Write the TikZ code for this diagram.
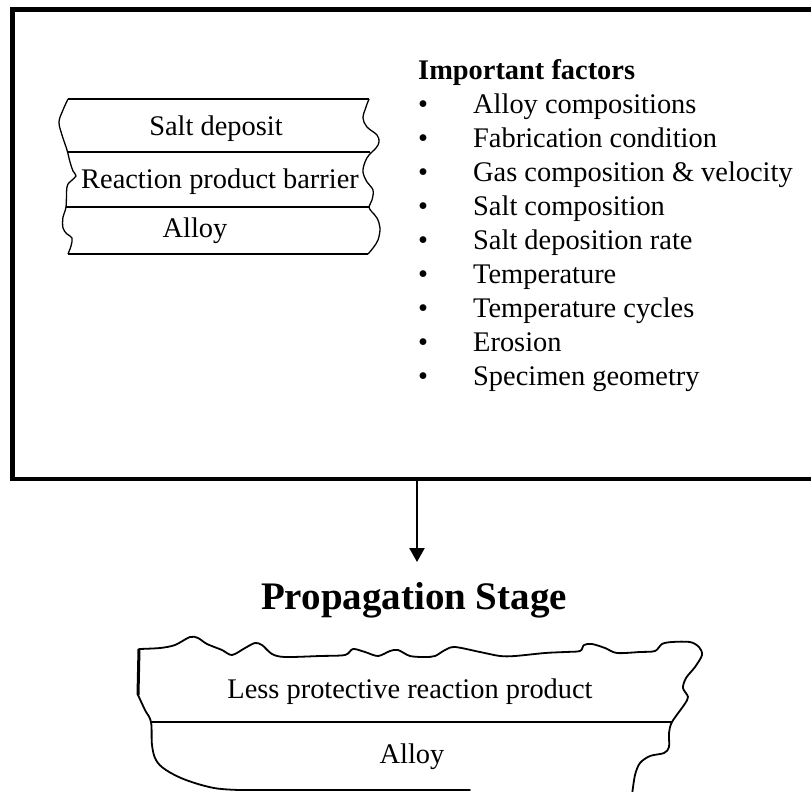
\documentclass[tikz,border=0pt]{standalone}
\usepackage{fontspec}
\setmainfont{Liberation Serif}
\usetikzlibrary{arrows.meta,positioning}

\begin{document}
\begin{tikzpicture}[x=1pt, y=-1pt, >={Triangle[length=14pt, width=15pt]},
  every node/.style={inner sep=0pt},
  txt/.style={font=\fontsize{28.4}{34}\selectfont, anchor=base},
  ttl/.style={font=\fontsize{39}{46}\selectfont\bfseries, anchor=base},
  layer/.style={line width=1.3pt},
  rough/.style={line width=1.8pt, line join=round, line cap=round}]
  \useasboundingbox (0,0) rectangle (811,792);

  % initiation frame
  \node[draw, line width=4.5pt, minimum width=810pt, minimum height=469pt, anchor=north west] (frame) at (10,7.5) {};

  % layered scale, initiation
  \draw[layer] (68,99) -- (369,99);
  \draw[layer] (68,152) -- (370,152);
  \draw[layer] (66,207) -- (369,207);
  \draw[layer] (68,254) -- (368,254);
  \draw[layer] plot[smooth, tension=0.6] coordinates {(68,99) (63,110) (59,122) (62,135) (67,150) (70,162) (73,171) (76,176) (71,181) (67,187) (66,207) (63,217) (63,228) (67,234) (72,238) (71,246) (68,254)};
  \draw[layer] plot[smooth, tension=0.6] coordinates {(369,99) (366,107) (363,118) (367,127) (377,135) (379,142) (376,148) (369,155) (365,162) (363,172) (367,182) (373,190) (372,200) (369,207) (372,212) (377,218) (380,228) (378,240) (373,248) (368,254)};
  \node[txt] (salt) at (216,135) {Salt deposit};
  \node[txt] (barrier) at (220,188) {Reaction product barrier};
  \node[txt] (alloyA) at (195,237) {Alloy};

  % factor list
  \node[txt, font=\fontsize{28.4}{34}\selectfont\bfseries, anchor=base west] (factors) at (418,79) {Important factors};
  \foreach \factor [count=\i] in {Alloy compositions, Fabrication condition, Gas composition \& velocity, Salt composition, Salt deposition rate, Temperature, Temperature cycles, Erosion, Specimen geometry} {
    \node[txt] (dot\i) at (423,79+34*\i) {\textbullet};
    \node[txt, anchor=base west] (fac\i) at (473,79+34*\i) {\factor};
  }

  % arrow to propagation
  \coordinate (tip) at (417,562);
  \draw[->, line width=2.5pt] (frame.south -| tip) -- (tip);
  \node[ttl] (stage) at (414,609) {Propagation Stage};

  % layered scale, propagation
  \draw[rough] plot[smooth, tension=0.5] coordinates {(139,649) (160,648) (175,645) (190,637) (198,638) (207,644) (222,650) (232,655) (245,648) (255,643) (262,645) (272,654) (285,657) (320,656) (345,655) (353,649) (365,652) (378,656) (390,651) (398,650) (410,656) (425,657) (435,656) (445,650) (455,647) (480,652) (500,656) (515,656) (545,653) (565,652) (580,651) (584,645) (592,644) (605,648) (617,653) (640,652) (655,651) (662,644) (672,642) (690,642) (699,647) (702,655) (695,667) (686,678) (683,688) (688,697) (684,705) (672,722) (669,733) (669,747) (664,753) (650,756) (640,763) (635,775) (632,795)};
  \draw[line width=3pt] (139,649) -- (138,695);
  \draw[rough] plot[smooth, tension=0.6] coordinates {(138,695) (145,710) (151,722) (152,745) (156,760) (166,770) (186,780) (214,788) (240,790)} -- (470,790);
  \draw[line width=1.6pt] (151,722) -- (672,722);
  \node[txt] (product) at (410,698) {Less protective reaction product};
  \node[txt] (alloyB) at (412,763) {Alloy};
\end{tikzpicture}
\end{document}
